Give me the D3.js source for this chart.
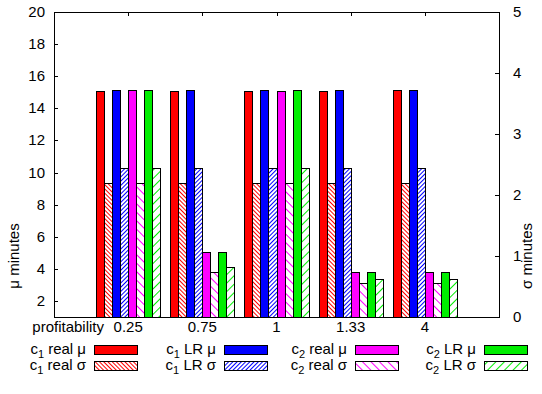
<!DOCTYPE html>
<html><head><meta charset="utf-8">
<script src="https://cdn.jsdelivr.net/npm/d3@7"></script>
<style>body{margin:0;background:#fff}svg{display:block}text{font-family:"Liberation Sans",Arial,sans-serif;font-size:15px;fill:#000}</style>
</head><body><svg id="c" width="542" height="394"></svg>
<script>
const categories = ["0.25","0.75","1","1.33","4"];
const c1RealMu = [15.05,15.05,15.05,15.05,15.15];
const c1RealSigma = [2.2,2.2,2.2,2.2,2.2];
const c1LRMu = [15.15,15.15,15.15,15.15,15.15];
const c1LRSigma = [2.44,2.44,2.44,2.44,2.44];
const c2RealMu = [15.15,5.05,15.1,3.8,3.8];
const c2RealSigma = [2.2,0.74,2.2,0.56,0.56];
const c2LRMu = [15.15,5.07,15.15,3.8,3.8];
const c2LRSigma = [2.44,0.82,2.44,0.62,0.62];
const yTicks = [2,4,6,8,10,12,14,16,18,20];
const y2Ticks = [0,1,2,3,4,5];

const series = [
  {name:"c1 real μ", sub:"1", label:" real μ", vals:c1RealMu, axis:"y", color:"#ff0000", fill:"solid"},
  {name:"c1 real σ", sub:"1", label:" real σ", vals:c1RealSigma, axis:"y2", color:"#ff0000", fill:"hatchBackDense"},
  {name:"c1 LR μ", sub:"1", label:" LR μ", vals:c1LRMu, axis:"y", color:"#0000ff", fill:"solid"},
  {name:"c1 LR σ", sub:"1", label:" LR σ", vals:c1LRSigma, axis:"y2", color:"#0000ff", fill:"hatchFwdDense"},
  {name:"c2 real μ", sub:"2", label:" real μ", vals:c2RealMu, axis:"y", color:"#ff00ff", fill:"solid"},
  {name:"c2 real σ", sub:"2", label:" real σ", vals:c2RealSigma, axis:"y2", color:"#ff00ff", fill:"hatchBackSparse"},
  {name:"c2 LR μ", sub:"2", label:" LR μ", vals:c2LRMu, axis:"y", color:"#00ee00", fill:"solid"},
  {name:"c2 LR σ", sub:"2", label:" LR σ", vals:c2LRSigma, axis:"y2", color:"#00ee00", fill:"hatchFwdSparse"}
];

const L=54, R=499, T=12, B=317;
const svg = d3.select("#c");
const x = d3.scaleLinear().domain([-1,5]).range([L,R]);
const y = d3.scaleLinear().domain([1,20]).range([B,T]);
const y2 = d3.scaleLinear().domain([0,5]).range([B,T]);
const bw = 0.108;

const defs = svg.append("defs");
function hatch(id, color, spacing, angle){
  const p = defs.append("pattern").attr("id",id).attr("patternUnits","userSpaceOnUse")
    .attr("width",spacing).attr("height",spacing).attr("patternTransform",`rotate(${angle})`);
  p.append("rect").attr("width",spacing).attr("height",spacing).attr("fill","#fff");
  p.append("line").attr("x1",0.5).attr("y1",0).attr("x2",0.5).attr("y2",spacing).attr("stroke",color).attr("stroke-width",1);
}
series.forEach((s,i)=>{
  if(s.fill==="hatchBackDense") hatch("p"+i,s.color,3,-45);
  if(s.fill==="hatchFwdDense") hatch("p"+i,s.color,3,45);
  if(s.fill==="hatchBackSparse") hatch("p"+i,s.color,6,-45);
  if(s.fill==="hatchFwdSparse") hatch("p"+i,s.color,6,45);
});
const fillOf = (s,i)=> s.fill==="solid" ? s.color : `url(#p${i})`;

// axes ticks
const g = svg.append("g");
g.selectAll(".yt").data(yTicks).join("line")
  .attr("x1",L).attr("x2",L+4).attr("y1",d=>Math.round(y(d))+0.5).attr("y2",d=>Math.round(y(d))+0.5).attr("stroke","#000");
g.selectAll(".ytl").data(yTicks).join("text")
  .attr("x",L-9).attr("y",d=>y(d)+5).attr("text-anchor","end").text(d=>d);
g.selectAll(".y2t").data(y2Ticks).join("line")
  .attr("x1",R-4).attr("x2",R).attr("y1",d=>Math.round(y2(d))+0.5).attr("y2",d=>Math.round(y2(d))+0.5).attr("stroke","#000");
g.selectAll(".y2tl").data(y2Ticks).join("text")
  .attr("x",R+14).attr("y",d=>y2(d)+5).attr("text-anchor","start").text(d=>d);
const cx = categories.map((c,i)=>i);
g.selectAll(".xt").data(cx).join("line")
  .attr("x1",d=>Math.round(x(d))+0.5).attr("x2",d=>Math.round(x(d))+0.5).attr("y1",T).attr("y2",T+4).attr("stroke","#000");
g.selectAll(".xtb").data(cx).join("line")
  .attr("x1",d=>Math.round(x(d))+0.5).attr("x2",d=>Math.round(x(d))+0.5).attr("y1",B-4).attr("y2",B).attr("stroke","#000");
g.selectAll(".xtl").data(categories).join("text")
  .attr("x",(d,i)=>x(i)).attr("y",B+15).attr("text-anchor","middle").text(d=>d);
g.append("text").attr("x",104).attr("y",B+15).attr("text-anchor","end").text("profitability");

// bars
series.forEach((s,k)=>{
  const sc = s.axis==="y" ? y : y2;
  svg.append("g").selectAll("rect").data(s.vals).join("rect")
    .attr("x",(d,i)=>Math.round(x(i-4*bw+k*bw))+0.5)
    .attr("width",(d,i)=>Math.round(x(i-4*bw+(k+1)*bw))-Math.round(x(i-4*bw+k*bw)))
    .attr("y",d=>Math.round(sc(d))+0.5)
    .attr("height",d=>B-Math.round(sc(d)))
    .attr("fill",fillOf(s,k)).attr("stroke","#000").attr("stroke-width",1);
});

// border
svg.append("rect").attr("x",L+0.5).attr("y",T+0.5).attr("width",R-L).attr("height",B-T).attr("fill","none").attr("stroke","#000");

// axis titles
svg.append("text").attr("transform","translate(19,256) rotate(-90)").attr("text-anchor","middle").text("μ minutes");
svg.append("text").attr("transform","translate(532,256) rotate(-90)").attr("text-anchor","middle").text("σ minutes");

// legend
const colX = [94,224,355,484];
const rowY = [345,361];
series.forEach((s,k)=>{
  const col = Math.floor(k/2), row = k%2;
  const lg = svg.append("g");
  const t = lg.append("text").attr("x",colX[col]-8).attr("y",rowY[row]+9).attr("text-anchor","end");
  t.append("tspan").text("c");
  t.append("tspan").attr("dy",4).attr("font-size","11px").text(s.sub);
  t.append("tspan").attr("dy",-4).text(s.label);
  lg.append("rect").attr("x",colX[col]+0.5).attr("y",rowY[row]+0.5).attr("width",43).attr("height",9)
    .attr("fill",fillOf(s,k)).attr("stroke","#000");
});
</script></body></html>
